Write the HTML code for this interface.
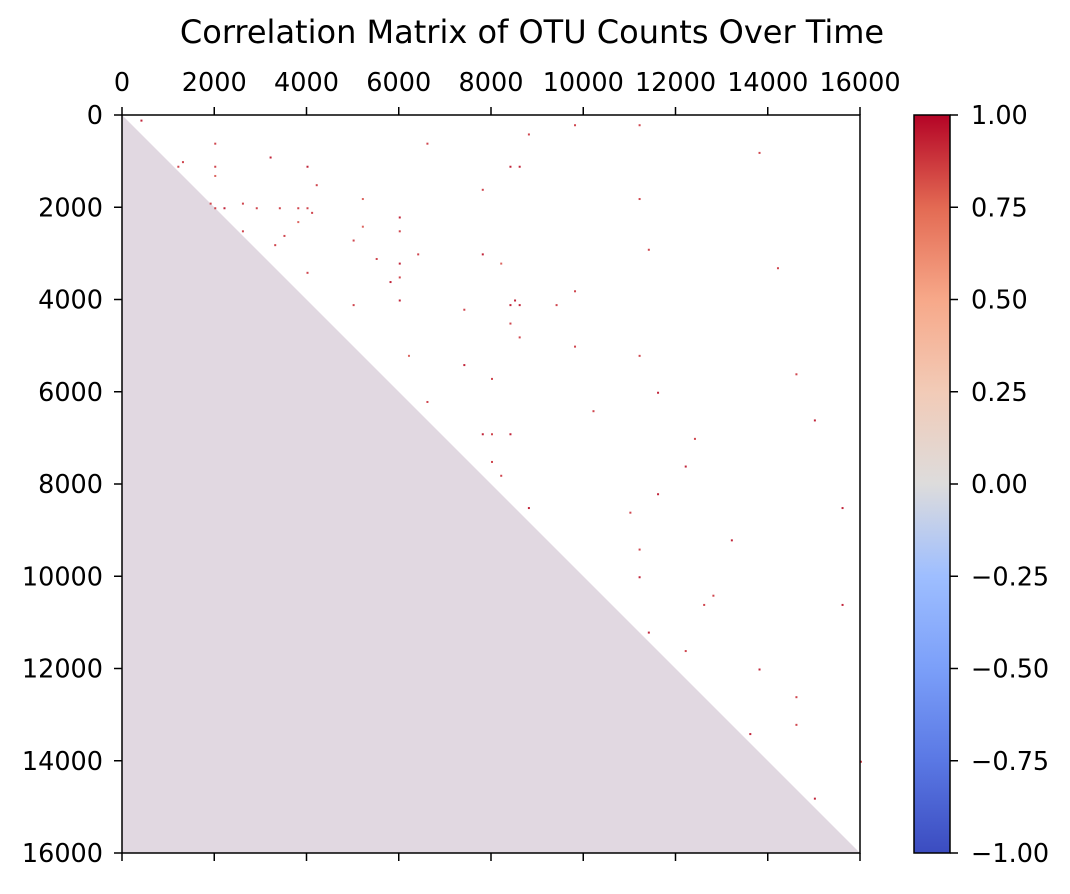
<!DOCTYPE html>
<html><head><meta charset="utf-8"><style>
body{margin:0;background:#fff;}
svg text{font-family:"DejaVu Sans","Liberation Sans",sans-serif;fill:#000;}
</style></head><body>
<svg id="chart" width="1070" height="889" viewBox="0 0 1070 889" xmlns="http://www.w3.org/2000/svg">
<defs>
<linearGradient id="cw" x1="0" y1="1" x2="0" y2="0">
<stop offset="0" stop-color="#3b4cc0"/>
<stop offset="0.125" stop-color="#5a78e4"/>
<stop offset="0.25" stop-color="#7b9ff9"/>
<stop offset="0.375" stop-color="#9ebeff"/>
<stop offset="0.5" stop-color="#dddcdc"/>
<stop offset="0.625" stop-color="#f2cbb7"/>
<stop offset="0.75" stop-color="#f7a889"/>
<stop offset="0.875" stop-color="#e36a53"/>
<stop offset="1" stop-color="#b40426"/>
</linearGradient>
</defs>
<text x="532" y="43" font-size="32" text-anchor="middle">Correlation Matrix of OTU Counts Over Time</text>
<g id="plot"></g>
<g id="axes"></g>
<g id="cbar"></g>
</svg>
<script>
const n = 16000;
const xTicks = [0,2000,4000,6000,8000,10000,12000,14000,16000];
const yTicks = [0,2000,4000,6000,8000,10000,12000,14000,16000];
const cbTicks = [1.00,0.75,0.50,0.25,0.00,-0.25,-0.50,-0.75,-1.00];
// [row, col, value]
const cells = [
[100,400,0.9],[600,2000,0.8],[900,3200,0.9],[1100,1200,0.8],[1100,4000,0.9],[1100,8400,0.9],[1100,8600,0.9],
[1500,4200,0.8],[1800,5200,0.7],[2000,2200,0.9],[2000,3400,0.8],[2000,4000,0.8],[2200,6000,0.9],[2400,5200,0.7],
[2500,6000,0.8],[2700,5000,0.8],[3000,6400,0.8],[3000,7800,0.9],[3200,8200,0.7],[3400,4000,0.8],[3600,5800,0.9],
[4000,6000,0.9],[4100,5000,0.8],[4100,8400,0.9],[4100,8600,0.9],[4100,9400,0.8],[4200,7400,0.8],[3800,9800,0.8],
[4800,8600,0.8],[5200,11200,0.8],[5200,6200,0.7],[5400,7400,0.9],[5700,8000,0.8],[6000,11600,0.9],[6200,6600,0.8],
[6400,10200,0.8],[6600,15000,0.9],[6900,7800,0.9],[7000,12400,0.8],[7500,8000,0.8],[7600,12200,0.9],[7800,8200,0.8],
[8200,11600,0.9],[8500,8800,0.9],[8500,15600,0.9],[8600,11000,0.8],[9200,13200,0.9],[9400,11200,0.8],[10000,11200,0.9],
[10400,12800,0.8],[10600,12600,0.8],[10600,15600,0.9],[11200,11400,0.9],[11600,12200,0.8],[12000,13800,0.9],[12600,14600,0.8],
[13200,14600,0.8],[13400,13600,0.9],[14000,16000,0.8],[14800,15000,0.9],[200,9800,0.8],[200,11200,0.8],[800,13800,0.8],
[5600,14600,0.8],[3300,14200,0.8],[1800,11200,0.8],[2900,11400,0.8],[400,8800,0.8],[600,6600,0.8],[1600,7800,0.8],
[1900,1900,0.8],[2000,2000,0.8],[2500,2600,0.8],[1000,1300,0.8],[1100,2000,0.8],[1300,2000,0.7],[1900,2600,0.8],
[2000,2900,0.8],[2000,3800,0.8],[2100,4100,0.8],[2300,3800,0.7],[2600,3500,0.8],[2800,3300,0.8],[3100,5500,0.8],
[3200,6000,0.9],[3500,6000,0.8],[4000,8500,0.9],[4500,8400,0.8],[5000,9800,0.8],[6900,8400,0.9],[6900,8000,0.8]
];
const L=122, T=115, R=860, B=853;
const NS='http://www.w3.org/2000/svg';
function xs(v){return L+(v/n)*(R-L);}
function ys(v){return T+(v/n)*(B-T);}
function cbY(v){return B-((v+1)/2)*(B-T);}
function col(v){
  const stops=[[-1,[59,76,192]],[-0.5,[123,159,249]],[0,[221,220,220]],[0.5,[247,168,137]],[1,[180,4,38]]];
  for(let i=0;i<stops.length-1;i++){const a=stops[i],b=stops[i+1];
    if(v<=b[0]){const t=(v-a[0])/(b[0]-a[0]);return 'rgb('+a[1].map((c,j)=>Math.round(c+t*(b[1][j]-c))).join(',')+')';}}
  return 'rgb(180,4,38)';
}
function mk(tag,attrs,parent){const e=document.createElementNS(NS,tag);for(const k in attrs)e.setAttribute(k,attrs[k]);parent.appendChild(e);return e;}
const plot=document.getElementById('plot');
const bg=mk('rect',{x:L,y:T,width:R-L,height:B-T,fill:'#fff'},plot);


const tri=mk('polygon',{points:xs(0)+','+ys(0)+' '+xs(0)+','+ys(n)+' '+xs(n)+','+ys(n),fill:'#e1d8e1'},plot);


cells.forEach(c=>{
  const r=mk('rect',{x:xs(c[1]),y:ys(c[0]),width:2,height:2,fill:col(c[2])},plot);
  
  
});
const axes=document.getElementById('axes');
const fr=mk('rect',{x:L,y:T,width:R-L,height:B-T,fill:'none',stroke:'#000','stroke-width':1.5},axes);


xTicks.forEach(v=>{
  const x=xs(v);
  mk('line',{x1:x,y1:T,x2:x,y2:T-8,stroke:'#000','stroke-width':1.5},axes);
  mk('line',{x1:x,y1:B,x2:x,y2:B+8,stroke:'#000','stroke-width':1.5},axes);
  const t=mk('text',{x:x,y:91,'font-size':25.5,'text-anchor':'middle'},axes);
  t.textContent=v;
  
  
});
yTicks.forEach(v=>{
  const y=ys(v);
  mk('line',{x1:L,y1:y,x2:L-8,y2:y,stroke:'#000','stroke-width':1.5},axes);
  const t=mk('text',{x:L-19,y:y+9,'font-size':25.5,'text-anchor':'end'},axes);
  t.textContent=v;
  
  
});
const cb=document.getElementById('cbar');
const cr=mk('rect',{x:914,y:T,width:36,height:B-T,fill:'url(#cw)',stroke:'#000','stroke-width':1.5},cb);


cbTicks.forEach(v=>{
  const y=cbY(v);
  mk('line',{x1:950,y1:y,x2:958,y2:y,stroke:'#000','stroke-width':1.5},cb);
  const t=mk('text',{x:971,y:y+9,'font-size':25.5},cb);
  t.textContent=(v<0?'\u2212':'')+Math.abs(v).toFixed(2);
  
  
});
</script>
</body></html>
